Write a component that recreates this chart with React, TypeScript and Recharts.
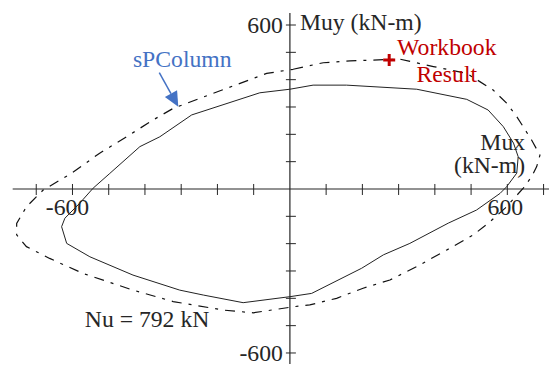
import { ScatterChart, Scatter, XAxis, YAxis, ReferenceLine, ReferenceDot } from 'recharts';

// sPColumn interaction curve (dash-dot) and workbook curve (solid), kN-m
const solidMux = [0, 64, 156, 350, 488, 547, 589, 617, 630, 626, 598, 580, 515, 437, 331, 258, 198, 60, 0, -129, -239, -304, -433, -552, -616, -630, -621, -580, -543, -497, -414, -359, -271, -83];
const solidMuy = [365, 380, 380, 365, 328, 289, 228, 168, 118, 58, 8, -16, -77, -125, -199, -241, -290, -382, -394, -416, -388, -370, -315, -248, -199, -138, -107, -52, 3, 57, 155, 191, 271, 352];

const spMux = [9, 92, 166, 304, 396, 488, 561, 598, 626, 667, 690, 681, 667, 644, 594, 552, 506, 433, 350, 276, 202, 129, 55, 9, -101, -184, -322, -433, -571, -663, -727, -754, -754, -727, -681, -603, -525, -451, -377, -322, -248, -64];
const spMuy = [438, 462, 469, 475, 448, 423, 362, 314, 265, 179, 124, 82, 45, 3, -70, -120, -168, -223, -284, -333, -363, -400, -424, -431, -453, -443, -412, -370, -309, -254, -211, -168, -126, -65, -4, 57, 131, 191, 253, 295, 332, 423];

const wbMux = [274];
const wbMuy = [472];

const xTicks = [-700, -600, -500, -400, -300, -200, -100, 100, 200, 300, 400, 500, 600, 700];
const yTicks = [-600, -500, -400, -300, -200, -100, 100, 200, 300, 400, 500, 600];
const xTickLabels = [-600, 600];
const yTickLabels = [600, -600];

const FS = 23.7;
const INK = '#262626';
const RED = '#C00000';
const BLUE = '#4472C4';

const closed = (xs: number[], ys: number[]) => {
  const pts = xs.map((x, i) => ({ x, y: ys[i] }));
  return [...pts, pts[0]];
};

const solidData = closed(solidMux, solidMuy);
const spData = closed(spMux, spMuy);
const wbData = wbMux.map((x, i) => ({ x, y: wbMuy[i] }));

const noDot = () => <g />;

const label = (text: string, dx: number, dy: number, anchor: string, color: string) =>
  (p: any) => (
    <text
      x={p.cx + dx}
      y={p.cy + dy}
      textAnchor={anchor}
      fontFamily="Liberation Serif"
      fontSize={FS}
      fill={color}
    >
      {text}
    </text>
  );

const xTickMark = (p: any) => (
  <line x1={p.cx} y1={p.cy - 5} x2={p.cx} y2={p.cy + 6} stroke={INK} strokeWidth={1} />
);
const yTickMark = (p: any) => (
  <line x1={p.cx - 4} y1={p.cy} x2={p.cx + 6} y2={p.cy} stroke={INK} strokeWidth={1} />
);

const plusMark = (p: any) => (
  <g stroke={RED} strokeWidth={3}>
    <line x1={p.cx - 6} y1={p.cy} x2={p.cx + 6} y2={p.cy} />
    <line x1={p.cx} y1={p.cy - 6} x2={p.cx} y2={p.cy + 6} />
  </g>
);

// arrow drawn back from its tip
const arrow = (p: any) => {
  const dx = 19, dy = 34;
  const len = Math.hypot(dx, dy);
  const ux = dx / len, uy = dy / len;
  const hl = 15, hw = 7;
  const bx = p.cx - ux * hl, by = p.cy - uy * hl;
  return (
    <g>
      <line x1={p.cx - dx} y1={p.cy - dy} x2={bx} y2={by} stroke={BLUE} strokeWidth={1.5} />
      <polygon
        points={`${p.cx},${p.cy} ${bx - uy * hw},${by + ux * hw} ${bx + uy * hw},${by - ux * hw}`}
        fill={BLUE}
      />
    </g>
  );
};

export default function App() {
  return (
    <div style={{ position: 'absolute', left: 0, top: 0, width: 549, height: 365, background: '#fff' }}>
      <ScatterChart width={549} height={365} margin={{ top: 0, right: 0, bottom: 0, left: 0 }}>
        <XAxis type="number" dataKey="x" domain={[-800, 715]} hide allowDataOverflow />
        <YAxis type="number" dataKey="y" domain={[-644, 691.5]} hide allowDataOverflow />

        <Scatter
          data={spData}
          line={{ stroke: '#111', strokeWidth: 1.2, strokeDasharray: '10 7 3 7' }}
          lineType="joint"
          shape={noDot}
          isAnimationActive={false}
        />
        <Scatter
          data={solidData}
          line={{ stroke: '#222', strokeWidth: 1 }}
          lineType="joint"
          shape={noDot}
          isAnimationActive={false}
        />
        <Scatter data={wbData} shape={plusMark} isAnimationActive={false} />

        <ReferenceLine segment={[{ x: -765, y: 0 }, { x: 715, y: 0 }]} stroke={INK} strokeWidth={1.2} ifOverflow="visible" />
        <ReferenceLine segment={[{ x: 0, y: -640 }, { x: 0, y: 644 }]} stroke={INK} strokeWidth={1.2} ifOverflow="visible" />

        {xTicks.map((t) => (
          <ReferenceDot key={'xt' + t} x={t} y={0} shape={xTickMark} ifOverflow="visible" />
        ))}
        {yTicks.map((t) => (
          <ReferenceDot key={'yt' + t} x={0} y={t} shape={yTickMark} ifOverflow="visible" />
        ))}
        {xTickLabels.map((t) => (
          <ReferenceDot key={'xl' + t} x={t} y={0} shape={label(String(t), t < 0 ? -5 : -2, 26, 'middle', INK)} ifOverflow="visible" />
        ))}
        {yTickLabels.map((t) => (
          <ReferenceDot key={'yl' + t} x={0} y={t} shape={label(String(t), -7, 8, 'end', INK)} ifOverflow="visible" />
        ))}

        <ReferenceDot x={0} y={600} shape={label('Muy (kN-m)', 10, 5, 'start', INK)} ifOverflow="visible" />
        <ReferenceDot x={649} y={143} shape={label('Mux', 0, 0, 'end', INK)} ifOverflow="visible" />
        <ReferenceDot x={649} y={57} shape={label('(kN-m)', 0, 0, 'end', INK)} ifOverflow="visible" />
        <ReferenceDot x={433} y={490} shape={label('Workbook', 0, 0, 'middle', RED)} ifOverflow="visible" />
        <ReferenceDot x={433} y={393} shape={label('Result', 0, 0, 'middle', RED)} ifOverflow="visible" />
        <ReferenceDot x={-297} y={447} shape={label('sPColumn', 0, 0, 'middle', BLUE)} ifOverflow="visible" />
        <ReferenceDot x={-308} y={301} shape={arrow} ifOverflow="visible" />
        <ReferenceDot x={-566} y={-504} shape={label('Nu = 792 kN', 0, 0, 'start', INK)} ifOverflow="visible" />
      </ScatterChart>
    </div>
  );
}
